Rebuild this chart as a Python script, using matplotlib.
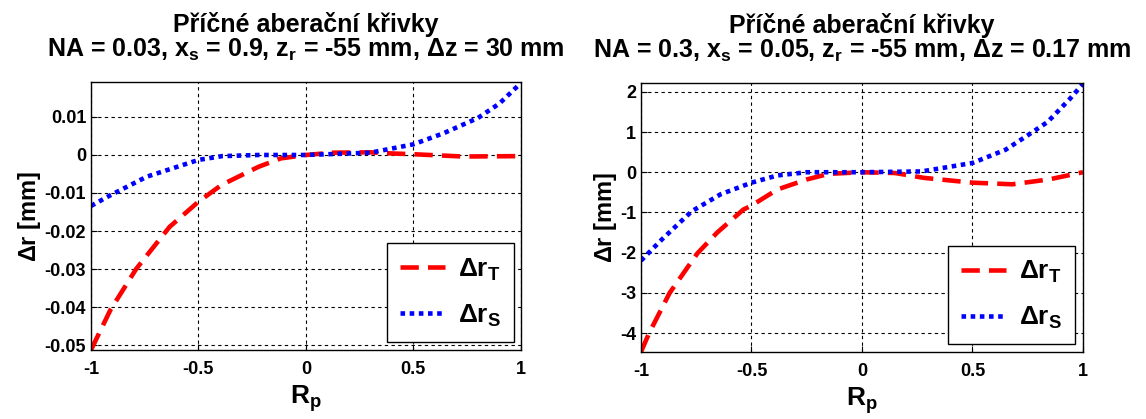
import matplotlib
matplotlib.use("Agg")
import matplotlib.pyplot as plt

plt.rcParams['font.family'] = ['Liberation Sans', 'DejaVu Sans']
plt.rcParams['font.weight'] = 'bold'
plt.rcParams['axes.labelweight'] = 'bold'
plt.rcParams['axes.titleweight'] = 'bold'
plt.rcParams['mathtext.fontset'] = 'custom'
plt.rcParams['mathtext.rm'] = 'Liberation Sans:bold'
plt.rcParams['mathtext.it'] = 'Liberation Sans:bold'
plt.rcParams['mathtext.bf'] = 'Liberation Sans:bold'
plt.rcParams['mathtext.default'] = 'bf'
plt.rcParams['axes.unicode_minus'] = False

# values (R_p, delta r in mm)
x_t1 = [-1.0, -0.91, -0.79, -0.72, -0.634, -0.5, -0.393, -0.22, -0.117, 0.0, 0.124, 0.3, 0.4, 0.5, 0.73, 1.0]
y_t1 = [-0.0513, -0.0408, -0.030, -0.025, -0.0189, -0.0123, -0.0079, -0.0031, -0.0009, 0.0, 0.0006, 0.0007, 0.0004, 0.0002, -0.0004, -0.0003]
x_s1 = [-1.0, -0.91, -0.74, -0.5, -0.39, -0.22, 0.0, 0.3, 0.5, 0.64, 0.8, 0.9, 1.0]
y_s1 = [-0.0134, -0.0106, -0.0057, -0.0013, -0.0003, 0.0, 0.0, 0.0006, 0.0028, 0.0057, 0.0097, 0.0135, 0.0189]

x_t2 = [-1.0, -0.963, -0.87, -0.745, -0.655, -0.537, -0.5, -0.383, -0.25, -0.15, 0.0, 0.15, 0.28, 0.5, 0.68, 0.845, 1.0]
y_t2 = [-4.47, -4.0, -3.0, -2.02, -1.5, -0.93, -0.83, -0.43, -0.18, -0.04, 0.0, -0.02, -0.14, -0.26, -0.3, -0.18, 0.0]
x_s2 = [-1.0, -0.905, -0.77, -0.64, -0.5, -0.383, -0.25, 0.0, 0.27, 0.5, 0.65, 0.745, 0.84, 0.94, 1.0]
y_s2 = [-2.2, -1.67, -0.97, -0.55, -0.26, -0.08, 0.0, 0.0, 0.02, 0.23, 0.56, 0.9, 1.25, 1.82, 2.2]

titles = [
    'Příčné aberační křivky\nNA = 0.03, x$_s$ = 0.9, z$_r$ = -55 mm, $\\Delta$z = 30 mm',
    'Příčné aberační křivky\nNA = 0.3, x$_s$ = 0.05, z$_r$ = -55 mm, $\\Delta$z = 0.17 mm',
]
yticks = [[0.01, 0, -0.01, -0.02, -0.03, -0.04, -0.05], [2, 1, 0, -1, -2, -3, -4]]
yticklabels = [['0.01', '0', '-0.01', '-0.02', '-0.03', '-0.04', '-0.05'], ['2', '1', '0', '-1', '-2', '-3', '-4']]
xticks = [-1, -0.5, 0, 0.5, 1]
xticklabels = ['-1', '-0.5', '0', '0.5', '1']
ylims = [(-0.0513, 0.0192), (-4.47, 2.22)]

fig = plt.figure(figsize=(11.46, 4.19), dpi=100)
ax1 = fig.add_axes([0.0794, 0.1647, 0.375, 0.6396])
ax2 = fig.add_axes([0.5593, 0.160, 0.3857, 0.642])
data = [(x_t1, y_t1, x_s1, y_s1), (x_t2, y_t2, x_s2, y_s2)]
legend_anchor = [(0.985, 0.03), (0.983, 0.028)]

for i, ax in enumerate([ax1, ax2]):
    xt, yt, xs, ys = data[i]
    ax.plot(xt, yt, color='red', lw=3.3, linestyle=(0, (4, 2)), label='$\\Delta$r$_T$')
    ax.plot(xs, ys, color='blue', lw=3.3, linestyle=(0, (1, 1)), label='$\\Delta$r$_S$')
    ax.set_xlim(-1, 1)
    ax.set_ylim(*ylims[i])
    ax.set_xticks(xticks)
    ax.set_xticklabels(xticklabels)
    ax.set_yticks(yticks[i])
    ax.set_yticklabels(yticklabels[i])
    ax.tick_params(direction='in', length=4, labelsize=13, width=0.8)
    ax.tick_params(axis='x', pad=8)
    ax.grid(True, color='black', linestyle=(0, (3, 3)), linewidth=0.8)
    for sp in ax.spines.values():
        sp.set_linewidth(1)
    ax.set_title(titles[i], fontsize=18, pad=18, linespacing=1.0)
    ax.set_xlabel('R$_p$', fontsize=19, labelpad=4)
    ax.set_ylabel('$\\Delta$r [mm]', fontsize=17, labelpad=1)
    leg = ax.legend(loc='lower right', bbox_to_anchor=legend_anchor[i], fontsize=19,
                    fancybox=False, edgecolor='black', framealpha=1, borderaxespad=0,
                    handlelength=1.7, labelspacing=0.75, borderpad=0.5, handletextpad=0.5)
    leg.get_frame().set_linewidth(1)

fig.savefig('out.png', dpi=100)
